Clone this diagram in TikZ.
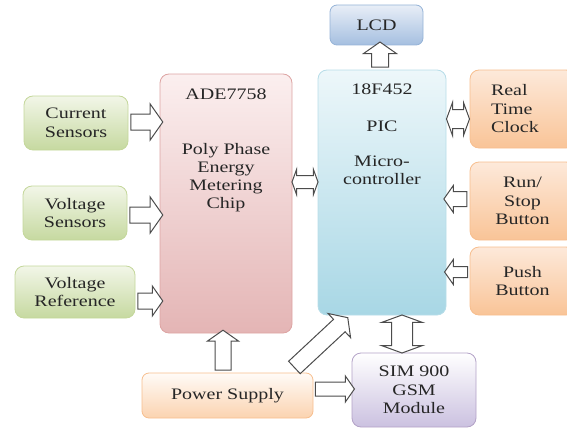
\documentclass[tikz,border=0pt]{standalone}
\usepackage{fontspec}
\setmainfont{Liberation Serif}[FakeStretch=1.25]
\usetikzlibrary{shapes.arrows,calc}
\definecolor{grnT}{HTML}{F2F6E8}\definecolor{grnB}{HTML}{C6D9A0}\definecolor{grnD}{HTML}{C4D79B}
\definecolor{pnkT}{HTML}{FBEFEF}\definecolor{pnkB}{HTML}{E4B5B5}\definecolor{pnkD}{HTML}{DDA4A3}
\definecolor{bluT}{HTML}{EDF7FA}\definecolor{bluB}{HTML}{A8D7E5}\definecolor{bluD}{HTML}{B7DDE8}
\definecolor{lcdT}{HTML}{E8EEF7}\definecolor{lcdB}{HTML}{A5BFE0}\definecolor{lcdD}{HTML}{95B3D7}
\definecolor{orgT}{HTML}{FDE9DA}\definecolor{orgB}{HTML}{F9C497}\definecolor{orgD}{HTML}{F7BE8E}
\definecolor{pwrT}{HTML}{FFFBF7}\definecolor{pwrB}{HTML}{FBD3B0}
\definecolor{simT}{HTML}{FFFFFF}\definecolor{simB}{HTML}{CBC1E0}\definecolor{simD}{HTML}{B3A2C7}
\tikzset{
  blk/.style={draw, rounded corners=9pt, line width=0.8pt, text=black!85,
    font=\fontsize{16}{18.5}\selectfont, align=center, inner sep=0pt},
  txt/.style={text=black!85, font=\fontsize{16}{18}\selectfont, align=center, inner sep=0pt},
  grnbox/.style={blk, draw=grnD, top color=grnT, bottom color=grnB},
  orgbox/.style={blk, draw=orgD, top color=orgT, bottom color=orgB, minimum width=105pt},
  fat/.style={single arrow, draw=black!70, fill=white, line width=1pt, inner xsep=0pt,
    single arrow tip angle=110},
  fatboth/.style={double arrow, draw=black!70, fill=white, line width=1pt, inner xsep=0pt,
    double arrow tip angle=140}
}
\begin{document}
\begin{tikzpicture}[x=1pt,y=-1pt]
\useasboundingbox (0,0) rectangle (567,428);
\node[grnbox,minimum width=104pt,minimum height=54pt] (cur) at (76,123) {Current\\Sensors};
\node[grnbox,minimum width=104pt,minimum height=54pt] (vsen) at (75,213) {Voltage\\Sensors};
\node[grnbox,minimum width=120pt,minimum height=52pt] (vref) at (75,292) {Voltage\\Reference};
\node[blk,draw=pnkD,top color=pnkT,bottom color=pnkB,minimum width=132pt,minimum height=259pt] (ade) at (226,203.5) {};
\node[txt,anchor=north] (adetxt) at ($(ade.north)+(0,15.5)$) {ADE7758\\[37pt]Poly Phase\\Energy\\Metering\\Chip};
\node[blk,draw=bluD,top color=bluT,bottom color=bluB,minimum width=128pt,minimum height=245pt] (pic) at (382,192.5) {};
\node[txt,anchor=north] (pictxt) at ($(pic.north)+(0,14.5)$) {18F452\\[19pt]PIC\\[17pt]Micro-\\controller};
\node[blk,draw=lcdD,top color=lcdT,bottom color=lcdB,minimum width=93pt,minimum height=40pt,rounded corners=7pt] (lcd) at (376.5,25) {LCD};
\node[orgbox,minimum height=78pt,text width=63pt,align=left] (rtc) at (522.5,109) {Real\\Time\\Clock};
\node[orgbox,minimum height=78pt] (run) at (522.5,201) {Run/\\Stop\\Button};
\node[orgbox,minimum height=68pt] (push) at (522.5,281) {Push\\Button};
\node[blk,draw=orgD,top color=pwrT,bottom color=pwrB,minimum width=171pt,minimum height=45pt,rounded corners=7pt] (power) at (227.5,395.5) {Power Supply};
\node[blk,draw=simD,top color=simT,bottom color=simB,minimum width=124pt,minimum height=74pt] (sim) at (414,390) {SIM 900\\GSM\\Module};
\node[fat,minimum height=32pt,inner ysep=7.5pt,single arrow head extend=10pt] (a1) at ($(cur.east)!.5!(ade.west|-cur.east)+(0,-1)$) {};
\node[fat,minimum height=33pt,inner ysep=7.5pt,single arrow head extend=10pt] (a2) at ($(vsen.east)!.5!(ade.west|-vsen.east)+(0,2)$) {};
\node[fat,minimum height=25pt,inner ysep=7.5pt,single arrow head extend=7pt] (a3) at ($(vref.east)!.5!(ade.west|-vref.east)+(0,9)$) {};
\node[fatboth,minimum height=26pt,inner ysep=6pt,double arrow head extend=6pt] (a4) at ($(ade.east|-0,182)!.5!(pic.west|-0,182)$) {};
\node[fat,rotate=90,minimum height=25pt,inner ysep=8pt,single arrow head extend=8pt] (a5) at ($(pic.north-|lcd.south)!.5!(lcd.south)+(3.5,0)$) {};
\node[fatboth,minimum height=23pt,inner ysep=9pt,double arrow head extend=7pt] (a6) at ($(pic.east|-0,119)!.5!(rtc.west|-0,119)$) {};
\node[fat,rotate=180,minimum height=23pt,inner ysep=7pt,single arrow head extend=6pt] (a7) at ($(pic.east|-0,199)!.5!(run.west|-0,199)$) {};
\node[fat,rotate=180,minimum height=23pt,inner ysep=5pt,single arrow head extend=7pt] (a8) at ($(pic.east|-0,272)!.5!(push.west|-0,272)$) {};
\node[fat,rotate=90,minimum height=40pt,inner ysep=7.5pt,single arrow head extend=7.5pt] (a9) at ($(power.north-|ade.south)!.5!(ade.south)+(-3,0)$) {};
\node[fat,rotate=43,minimum height=73pt,inner ysep=8pt,single arrow head extend=8pt] (a10) at ($(power.north east)+(5.5,-28)$) {};
\node[fat,minimum height=39pt,inner ysep=6.5pt,single arrow head extend=6pt] (a11) at ($(power.east|-0,389)!.5!(sim.west|-0,389)$) {};
\node[fatboth,rotate=90,minimum height=38pt,inner ysep=10pt,double arrow head extend=10pt] (a12) at ($(pic.south-|402,0)!.5!(sim.north-|402,0)$) {};
\end{tikzpicture}
\end{document}
